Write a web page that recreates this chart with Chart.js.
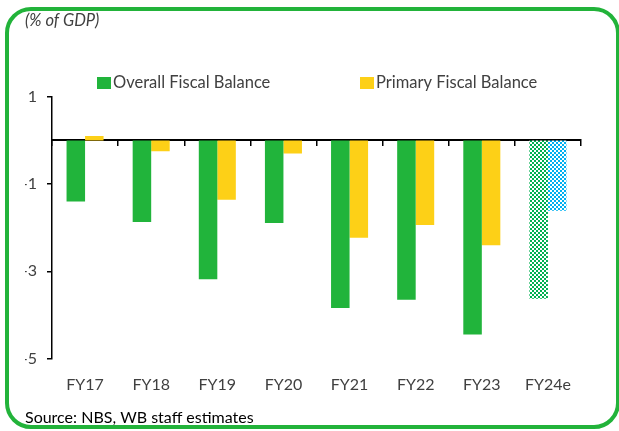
<!DOCTYPE html>
<html>
<head>
<meta charset="utf-8">
<script src="https://cdn.jsdelivr.net/npm/chart.js@4.4.1/dist/chart.umd.min.js"></script>
<style>
    body { margin: 0; background: #ffffff; }
    #wrap { position: relative; width: 619px; height: 431px; }
</style>
</head>
<body>
<div id="wrap"><canvas id="chart" width="619" height="431"></canvas></div>
<script>
// Data (% of GDP)
var categories = ['FY17', 'FY18', 'FY19', 'FY20', 'FY21', 'FY22', 'FY23', 'FY24e'];
var overallBalance = [-1.40, -1.87, -3.18, -1.89, -3.84, -3.65, -4.45, -3.63];
var primaryBalance = [0.10, -0.25, -1.36, -0.30, -2.23, -1.94, -2.40, -1.61];
var yTicks = [1, -1, -3, -5];
var seriesNames = ['Overall Fiscal Balance', 'Primary Fiscal Balance'];

// Colours
var greenColor = '#21b43b';
var yellowColor = '#fdd017';
var frameColor = '#22b33a';
var textColor = '#404040';
var fontFamily = 'Lato, "Open Sans", sans-serif';

/**
 * Checkered fill for estimate bars
 */
function checkPattern(color) {
    var c = document.createElement('canvas');
    c.width = 4;
    c.height = 4;
    var ctx = c.getContext('2d');
    ctx.fillStyle = color;
    ctx.fillRect(0, 0, 4, 4);
    ctx.fillStyle = '#ffffff';
    ctx.fillRect(0, 0, 2, 2);
    ctx.fillRect(2, 2, 2, 2);
    return ctx.createPattern(c, 'repeat');
}

var greenFill = categories.map(function (c, i) {
    return i === categories.length - 1 ? checkPattern('#00b050') : greenColor;
});
var yellowFill = categories.map(function (c, i) {
    return i === categories.length - 1 ? checkPattern('#00b0f0') : yellowColor;
});

// Rounded green frame
var framePlugin = {
    id: 'frame',
    afterDraw: function (chart) {
        var ctx = chart.ctx;
        ctx.save();
        ctx.strokeStyle = frameColor;
        ctx.lineWidth = 4;
        ctx.beginPath();
        ctx.roundRect(7, 9, 611, 418, 24);
        ctx.stroke();
        ctx.restore();
    }
};

// Wide-spaced legend (built-in one wraps at this spacing)
var legendPlugin = {
    id: 'wideLegend',
    afterDraw: function (chart) {
        var ctx = chart.ctx;
        var items = [
            { x: 97, color: greenColor, text: seriesNames[0] },
            { x: 360, color: yellowColor, text: seriesNames[1] }
        ];
        var y = 83;
        ctx.save();
        ctx.font = '16.5px ' + fontFamily;
        ctx.textBaseline = 'middle';
        ctx.textAlign = 'left';
        items.forEach(function (item) {
            ctx.fillStyle = item.color;
            ctx.fillRect(item.x, y - 6, 14, 12);
            ctx.fillStyle = textColor;
            ctx.fillText(item.text, item.x + 16, y);
        });
        ctx.restore();
    }
};

Chart.defaults.font.family = fontFamily;
Chart.defaults.color = textColor;

new Chart(document.getElementById('chart').getContext('2d'), {
    type: 'bar',
    data: {
        labels: categories,
        datasets: [{
            label: seriesNames[0],
            data: overallBalance,
            backgroundColor: greenFill,
            borderWidth: 0
        }, {
            label: seriesNames[1],
            data: primaryBalance,
            backgroundColor: yellowFill,
            borderWidth: 0
        }]
    },
    options: {
        responsive: false,
        animation: false,
        categoryPercentage: 0.56,
        barPercentage: 1,
        layout: {
            padding: { left: 25, right: 38, top: 9, bottom: 4 }
        },
        plugins: {
            title: {
                display: true,
                text: '(% of GDP)',
                align: 'start',
                color: textColor,
                font: { size: 16.5, style: 'italic', weight: 'normal' },
                padding: { top: 2, bottom: 66 }
            },
            subtitle: {
                display: true,
                text: 'Source: NBS, WB staff estimates',
                position: 'bottom',
                align: 'start',
                color: '#000000',
                font: { size: 16 },
                padding: { top: 4, bottom: 0 }
            },
            legend: { display: false },
            tooltip: { enabled: false }
        },
        scales: {
            x: {
                position: 'bottom',
                grid: { display: false },
                border: { display: false },
                ticks: {
                    padding: 9,
                    color: textColor,
                    font: { size: 16 }
                }
            },
            x2: {
                type: 'category',
                labels: categories,
                position: { y: 0 },
                offset: true,
                grid: {
                    offset: true,
                    drawOnChartArea: false,
                    drawTicks: true,
                    tickLength: 5,
                    color: '#000000',
                    lineWidth: 1.5
                },
                border: { color: '#000000', width: 2 },
                ticks: { display: false }
            },
            y: {
                min: -5,
                max: 1,
                afterBuildTicks: function (scale) {
                    scale.ticks = yTicks.map(function (v) { return { value: v }; });
                },
                afterFit: function (scale) {
                    scale.width = 27;
                },
                grid: {
                    drawOnChartArea: false,
                    drawTicks: true,
                    tickLength: 5,
                    color: '#000000',
                    lineWidth: 1.5
                },
                border: { color: '#000000', width: 1.5 },
                ticks: {
                    padding: 10,
                    color: textColor,
                    font: { size: 16 }
                }
            }
        }
    },
    plugins: [framePlugin, legendPlugin]
});
</script>
</body>
</html>
